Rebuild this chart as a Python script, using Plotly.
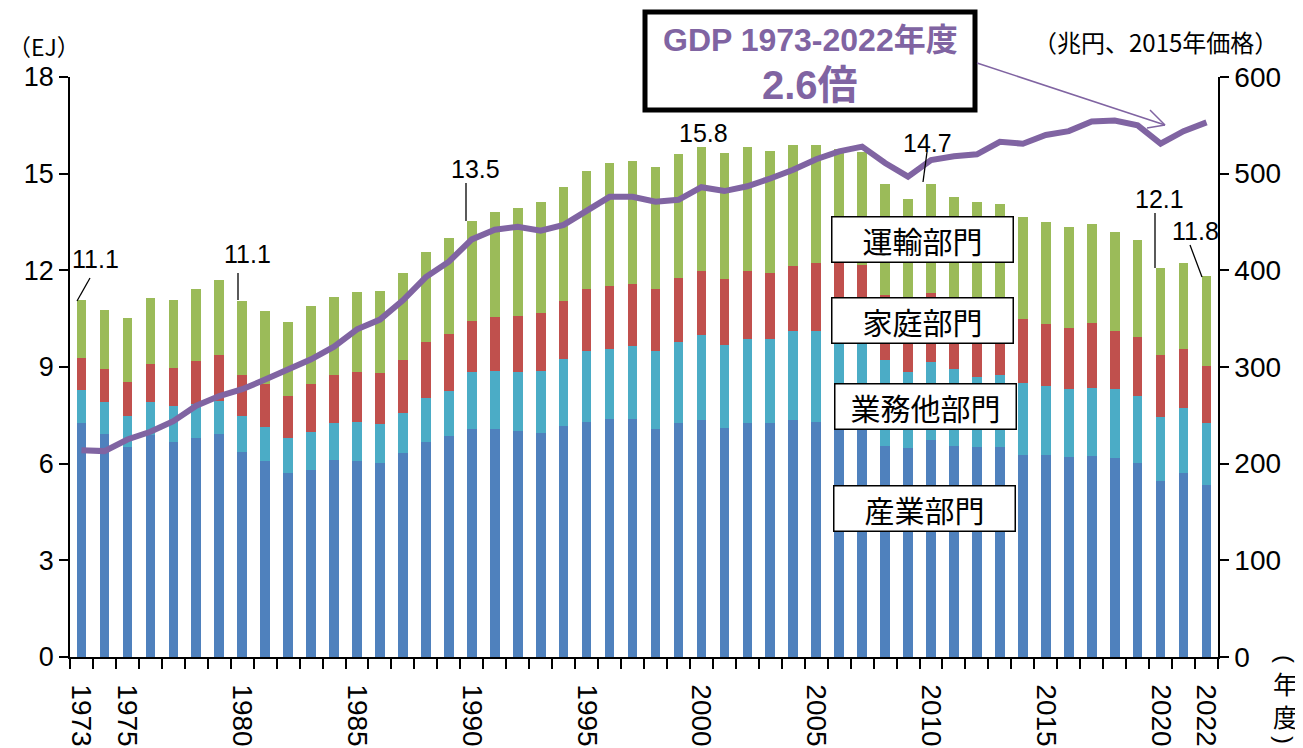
import plotly.graph_objects as go

# ---------------- data ----------------
years = list(range(1973, 2023))

# 産業部門 (industry, EJ)
industry = [7.25, 6.92, 6.51, 6.89, 6.68, 6.79, 6.92, 6.37, 6.08, 5.70,
            5.80, 6.11, 6.08, 6.03, 6.32, 6.68, 6.87, 7.08, 7.08, 7.01,
            6.94, 7.17, 7.30, 7.39, 7.39, 7.08, 7.25, 7.36, 7.12, 7.27,
            7.27, 7.36, 7.30, 7.10, 7.05, 6.55, 6.48, 6.73, 6.55, 6.51,
            6.51, 6.27, 6.27, 6.22, 6.25, 6.17, 6.03, 5.47, 5.70, 5.34]
# 業務他部門 (commercial & others, EJ)
commercial = [1.04, 1.00, 0.98, 1.03, 1.11, 1.06, 1.03, 1.12, 1.05, 1.09,
              1.19, 1.16, 1.20, 1.20, 1.24, 1.37, 1.39, 1.76, 1.81, 1.85,
              1.95, 2.07, 2.21, 2.17, 2.27, 2.42, 2.52, 2.64, 2.56, 2.60,
              2.60, 2.75, 2.82, 3.02, 3.00, 2.67, 2.36, 2.42, 2.38, 2.19,
              2.24, 2.22, 2.15, 2.09, 2.11, 2.15, 2.08, 1.99, 2.02, 1.91]
# 家庭部門 (household, EJ)
household = [0.98, 1.02, 1.06, 1.16, 1.17, 1.34, 1.41, 1.26, 1.34, 1.31,
             1.48, 1.48, 1.57, 1.57, 1.66, 1.74, 1.76, 1.60, 1.65, 1.73,
             1.80, 1.82, 1.91, 1.96, 1.92, 1.92, 2.00, 1.98, 2.04, 2.11,
             2.04, 2.03, 2.12, 2.10, 2.12, 2.02, 2.06, 2.14, 1.97, 2.15,
             2.05, 2.00, 1.92, 1.89, 2.00, 1.80, 1.81, 1.91, 1.83, 1.78]
# 運輸部門 (transport, EJ)
transport = [1.81, 1.83, 1.96, 2.05, 2.12, 2.23, 2.34, 2.31, 2.28, 2.29,
             2.42, 2.43, 2.47, 2.57, 2.69, 2.77, 2.99, 3.10, 3.26, 3.35,
             3.42, 3.54, 3.67, 3.80, 3.81, 3.78, 3.84, 3.84, 3.93, 3.86,
             3.80, 3.74, 3.64, 3.54, 3.51, 3.43, 3.31, 3.38, 3.39, 3.28,
             3.26, 3.16, 3.15, 3.14, 3.08, 3.08, 3.02, 2.69, 2.69, 2.80]
# GDP (兆円、2015年価格)
gdp = [214, 213, 225, 233, 244, 260, 270, 277, 287, 298,
       308, 321, 339, 349, 369, 393, 409, 432, 442, 445,
       441, 447, 461, 476, 476, 471, 473, 486, 482, 487,
       495, 504, 515, 523, 528, 511, 497, 514, 518, 520,
       533, 531, 540, 544, 554, 555, 550, 531, 544, 553]

tick_years = [1973, 1975, 1980, 1985, 1990, 1995, 2000, 2005, 2010, 2015, 2020, 2022]
label_years = [1973, 1980, 1990, 2000, 2010, 2020, 2022]
label_texts = ["11.1", "11.1", "13.5", "15.8", "14.7", "12.1", "11.8"]
sector_names = ["産業部門", "業務他部門", "家庭部門", "運輸部門"]

# ---------------- style ----------------
C_IND = "#4F81BD"
C_COM = "#4BACC6"
C_HOU = "#C0504D"
C_TRA = "#9BBB59"
C_GDP = "#8064A2"
NUM_FONT = "Liberation Sans, Arial, sans-serif"
JP_FONT = "Noto Sans CJK JP, Noto Sans, sans-serif"

OFF = 8                      # page body margin in the browser
W, H = 1303 - OFF, 748 - OFF
L, R, T, B = 70, 1218, 77, 657  # plot area in page pixels


def px(x):
    return (x - L) / (R - L)


def py(y):
    return (B - y) / (B - T)


fig = go.Figure()
for vals, col, name in [(industry, C_IND, sector_names[0]),
                        (commercial, C_COM, sector_names[1]),
                        (household, C_HOU, sector_names[2]),
                        (transport, C_TRA, sector_names[3])]:
    fig.add_trace(go.Bar(x=years, y=vals, name=name, marker=dict(color=col, line=dict(width=0)),
                         width=0.42, yaxis="y"))

fig.add_trace(go.Scatter(x=years, y=gdp, mode="lines", name="GDP",
                         line=dict(color=C_GDP, width=6), yaxis="y2"))

fig.update_layout(
    width=W, height=H,
    margin=dict(l=L - OFF, r=OFF + W - R, t=T - OFF, b=OFF + H - B, pad=0, autoexpand=False),
    paper_bgcolor="white", plot_bgcolor="white",
    barmode="stack", bargap=0.58, showlegend=False,
    xaxis=dict(range=[1972.5, 2022.5], showgrid=False, zeroline=False, automargin=False,
               showline=True, linecolor="black", linewidth=1.5,
               tickmode="array", tickvals=tick_years, ticktext=[str(y) for y in tick_years],
               tickangle=90, ticks="outside", ticklen=10, tickcolor="rgba(0,0,0,0)",
               ticklabelstandoff=10,
               tickfont=dict(family=NUM_FONT, size=28, color="black"),
               minor=dict(tickmode="linear", tick0=1972.5, dtick=1, ticks="outside",
                          ticklen=10, tickwidth=1.5, tickcolor="black", showgrid=False)),
    yaxis=dict(range=[0, 18], tickmode="array", tickvals=[0, 3, 6, 9, 12, 15, 18],
               showgrid=False, zeroline=False, automargin=False,
               showline=True, linecolor="black", linewidth=1.5,
               ticks="outside", ticklen=9, tickwidth=1.5, tickcolor="black",
               tickfont=dict(family=NUM_FONT, size=27, color="black")),
    yaxis2=dict(range=[0, 600], tickmode="array", tickvals=[0, 100, 200, 300, 400, 500, 600],
                overlaying="y", side="right", showgrid=False, zeroline=False, automargin=False,
                showline=True, linecolor="black", linewidth=1.5,
                ticks="outside", ticklen=9, tickwidth=1.5, tickcolor="black",
                tickfont=dict(family=NUM_FONT, size=28, color="black")),
)

annotations = []
shapes = []

# axis unit titles
annotations.append(dict(x=px(44), y=py(46), xref="paper", yref="paper", text="（EJ）",
                        showarrow=False, font=dict(family=JP_FONT, size=23, color="black"),
                        xanchor="center", yanchor="middle"))
annotations.append(dict(x=px(1155), y=py(41), xref="paper", yref="paper",
                        text="（兆円、2015年価格）", showarrow=False,
                        font=dict(family=JP_FONT, size=24, color="black"),
                        xanchor="center", yanchor="middle"))
# vertical "（年度）": stacked characters with rotated parentheses
for ch, cy, size, ang, fam in [("(", 659, 24, 90, NUM_FONT), ("年", 683, 25, 0, JP_FONT),
                               ("度", 716, 25, 0, JP_FONT), (")", 740, 24, 90, NUM_FONT)]:
    annotations.append(dict(x=px(1285), y=py(cy), xref="paper", yref="paper", text=ch,
                            showarrow=False, textangle=ang,
                            font=dict(family=fam, size=size, color="black"),
                            xanchor="center", yanchor="middle", borderpad=0))

# value labels on selected bars
label_pos = [(95, 259), (247, 254), (475, 169), (703, 133), (927, 143), (1159, 199), (1195, 231)]
for (lx, ly), t in zip(label_pos, label_texts):
    annotations.append(dict(x=px(lx), y=py(ly), xref="paper", yref="paper", text=t,
                            showarrow=False, font=dict(family=NUM_FONT, size=25, color="black"),
                            xanchor="center", yanchor="middle"))
leaders = [((90, 278), (77, 301)), ((238, 273), (238, 300)), ((466, 183), (466, 221)),
           ((927, 152), (923, 182)), ((1155, 213), (1155, 268)), ((1190, 245), (1202, 277))]
for (x0, y0), (x1, y1) in leaders:
    shapes.append(dict(type="line", xref="paper", yref="paper", x0=px(x0), y0=py(y0),
                       x1=px(x1), y1=py(y1), line=dict(color="black", width=1.3)))

# sector label boxes
box_specs = [("運輸部門", 923, 240), ("家庭部門", 923, 320), ("業務他部門", 925, 406), ("産業部門", 924, 508)]
for txt, cx, cy in box_specs:
    annotations.append(dict(x=px(cx), y=py(cy), xref="paper", yref="paper", text=txt,
                            showarrow=False, font=dict(family=JP_FONT, size=30, color="black"),
                            bgcolor="white", bordercolor="black", borderwidth=1.5, borderpad=0,
                            width=180, height=44, xanchor="center", yanchor="middle"))

# GDP box
shapes.append(dict(type="rect", xref="paper", yref="paper", x0=px(645), y0=py(12),
                   x1=px(975), y1=py(110), line=dict(color="black", width=5), fillcolor="white",
                   layer="above"))
annotations.append(dict(x=px(810), y=py(40), xref="paper", yref="paper",
                        text="<b>GDP 1973-2022年度</b>", showarrow=False,
                        font=dict(family="Liberation Sans, Noto Sans CJK JP", size=32, color=C_GDP),
                        xanchor="center", yanchor="middle"))
annotations.append(dict(x=px(810), y=py(85), xref="paper", yref="paper",
                        text="<b>2.6倍</b>", showarrow=False,
                        font=dict(family="Liberation Sans, Noto Sans CJK JP", size=40, color=C_GDP),
                        xanchor="center", yanchor="middle"))
# arrow
tip = (1165, 125)
for (a, b) in [((977, 63), tip), ((1150, 110), tip), ((1147, 128), tip)]:
    shapes.append(dict(type="line", xref="paper", yref="paper", x0=px(a[0]), y0=py(a[1]),
                       x1=px(b[0]), y1=py(b[1]), line=dict(color=C_GDP, width=1.5)))

fig.update_layout(annotations=annotations, shapes=shapes)
fig.write_html("out.html")
